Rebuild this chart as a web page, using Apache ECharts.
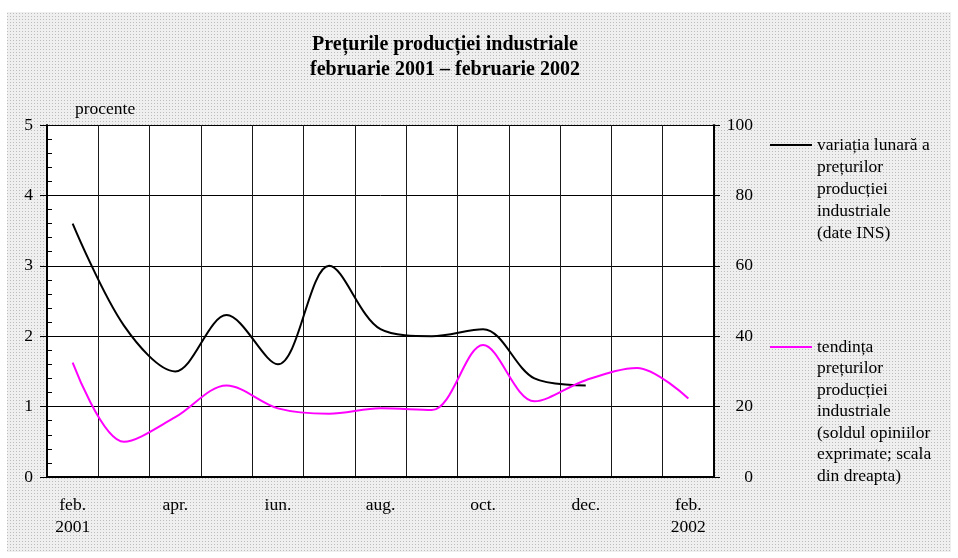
<!DOCTYPE html>
<html>
<head>
<meta charset="utf-8">
<script src="https://cdn.jsdelivr.net/npm/echarts@6/dist/echarts.min.js"></script>
<style>
html,body{margin:0;padding:0;background:#fff;}
#c{width:958px;height:558px;}
</style>
</head>
<body>
<div id="c"></div>
<script>
// ---- data ----
var categories = ['feb.\n2001','mar.','apr.','mai','iun.','iul.','aug.','sep.','oct.','nov.','dec.','ian.','feb.\n2002'];
var variatiaLunara = [3.6, 2.15, 1.5, 2.3, 1.6, 3.0, 2.1, 2.0, 2.1, 1.4, 1.3];
var tendinta = [32.5, 10, 17, 26, 19.5, 18, 19.5, 19, 37.5, 21.5, 27.5, 31, 22.3];
var leftTicks = [0, 1, 2, 3, 4, 5];
var rightTicks = [0, 20, 40, 60, 80, 100];
var titleText = 'Prețurile producției industriale\nfebruarie 2001 – februarie 2002';
var name1 = 'variația lunară a\nprețurilor\nproducției\nindustriale\n(date INS)';
var name2 = 'tendința\nprețurilor\nproducției\nindustriale\n(soldul opiniilor\nexprimate; scala\ndin dreapta)';

var FONT = "'Liberation Serif','Times New Roman',serif";
var FS = 17.5;
var LH1 = 22, LH2 = 21.5;

// background halftone pattern
var tile = document.createElement('canvas');
tile.width = 3; tile.height = 3;
var tc = tile.getContext('2d');
tc.fillStyle = '#efefef'; tc.fillRect(0,0,3,3);
tc.fillStyle = '#bcbcbc'; tc.fillRect(1,1,1,1);

function nLines(s){ return s.split('\n').length; }
// put the first text line level with the legend line sample
function topAlign(name){ return new Array(nLines(name)).join('\n') + name; }

var chart = echarts.init(document.getElementById('c'), null, {renderer:'canvas'});
var option = {
  animation: false,
  backgroundColor: '#fff',
  graphic: [{
    type: 'rect', z: -10, silent: true,
    shape: {x: 7, y: 12, width: 944, height: 540},
    style: {fill: {image: tile, repeat: 'repeat'}}
  }],
  title: {
    text: titleText,
    left: 440, top: 27, textAlign: 'center',
    textStyle: {fontFamily: FONT, fontSize: 20, fontWeight: 'bold', color: '#000', lineHeight: 25}
  },
  legend: [{
    left: 770, top: 146 - 1 - ((2*nLines(name1)-1)*LH1)/2, padding: 0,
    orient: 'vertical', itemWidth: 42, itemHeight: 2, icon: 'rect', selectedMode: false,
    data: [{name: name1}], formatter: topAlign,
    textStyle: {fontFamily: FONT, fontSize: FS, color: '#000', lineHeight: LH1}
  },{
    left: 770, top: 348 - 1 - ((2*nLines(name2)-1)*LH2)/2, padding: 0,
    orient: 'vertical', itemWidth: 42, itemHeight: 2, icon: 'rect', selectedMode: false,
    data: [{name: name2}], formatter: topAlign,
    textStyle: {fontFamily: FONT, fontSize: FS, color: '#000', lineHeight: LH2}
  }],
  grid: {left: 47, right: 244, top: 125, bottom: 81, show: true, backgroundColor: '#fff', borderWidth: 0},
  xAxis: {
    type: 'category', data: categories, boundaryGap: true,
    axisLine: {lineStyle: {color: '#000', width: 2}},
    axisTick: {show: false, interval: 0},
    splitLine: {show: true, interval: 0, lineStyle: {color: '#1a1a1a', width: 1}},
    axisLabel: {interval: 1, margin: 17, fontFamily: FONT, fontSize: FS, color: '#000', lineHeight: LH1}
  },
  yAxis: [{
    type: 'value', min: leftTicks[0], max: leftTicks[leftTicks.length-1], interval: 1, position: 'left',
    name: 'procente', nameLocation: 'end', nameGap: 16,
    nameTextStyle: {fontFamily: FONT, fontSize: FS, color: '#000', align: 'left', verticalAlign: 'middle', padding: [0,0,0,28]},
    axisLine: {show: true, lineStyle: {color: '#000', width: 2}},
    axisTick: {show: true, length: 7, lineStyle: {color: '#000', width: 1}},
    minorTick: {show: true, splitNumber: 5, length: -5, lineStyle: {color: '#000', width: 1}},
    splitLine: {show: true, lineStyle: {color: '#000', width: 1}},
    axisLabel: {margin: 14, fontFamily: FONT, fontSize: FS, color: '#000'}
  },{
    type: 'value', min: rightTicks[0], max: rightTicks[rightTicks.length-1], interval: 20, position: 'right',
    axisLine: {show: true, lineStyle: {color: '#000', width: 2}},
    axisTick: {show: true, length: 6, lineStyle: {color: '#000', width: 1}},
    splitLine: {show: false},
    axisLabel: {margin: 39, align: 'right', fontFamily: FONT, fontSize: FS, color: '#000'}
  }],
  series: [{
    name: name1, type: 'line', yAxisIndex: 0, data: variatiaLunara,
    smooth: 0.33, symbol: 'none', showSymbol: false,
    lineStyle: {color: '#000', width: 2}, itemStyle: {color: '#000'}
  },{
    name: name2, type: 'line', yAxisIndex: 1, data: tendinta,
    smooth: 0.33, symbol: 'none', showSymbol: false,
    lineStyle: {color: '#ff00ff', width: 2}, itemStyle: {color: '#ff00ff'}
  }]
};
chart.setOption(option);
</script>
</body>
</html>
